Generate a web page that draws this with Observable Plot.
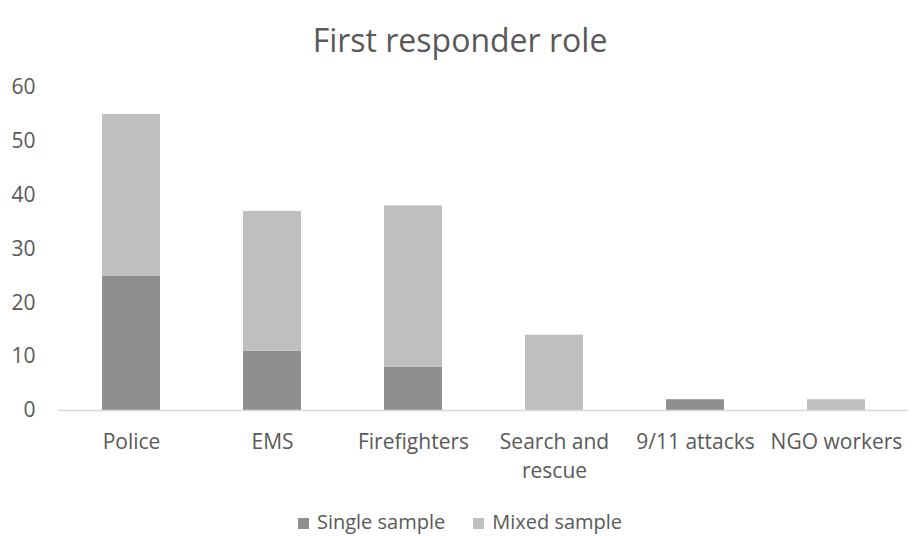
<!DOCTYPE html>
<html>
<head>
<meta charset="utf-8">
<script src="https://cdn.jsdelivr.net/npm/d3@7"></script>
<script src="https://cdn.jsdelivr.net/npm/@observablehq/plot@0.6"></script>
<style>
  body { margin: 0; background: #fff; font-family: "Open Sans", sans-serif; color: #595959; }
  #wrap { width: 920px; height: 536px; overflow: hidden; }
  #title { height: 60px; box-sizing: border-box; padding-top: 24px; font-size: 32px; line-height: 32px; text-align: center; }
  #legend { height: 36px; box-sizing: border-box; padding-top: 8px; line-height: 28px; font-size: 20px; text-align: center; }
  #legend span.sw { display: inline-block; width: 11px; height: 11px; margin-right: 8px; vertical-align: 0px; }
  #legend span.item { margin: 0 14px; }
</style>
</head>
<body>
<div id="wrap">
  <div id="title">First responder role</div>
  <div id="chart"></div>
  <div id="legend"></div>
</div>
<script>
// Roles on the x axis
const roles = ["Police", "EMS", "Firefighters", "Search and rescue", "9/11 attacks", "NGO workers"];
// Tick label text (wrapped where the label is long)
const roleLabels = ["Police", "EMS", "Firefighters", "Search and\nrescue", "9/11 attacks", "NGO workers"];
// Series
const seriesNames = ["Single sample", "Mixed sample"];
const seriesColors = ["#8f8f8f", "#bfbfbf"];
// Number of studies per role
const singleSample = [25, 11, 8, 0, 2, 0];
const mixedSample = [30, 26, 30, 14, 0, 2];
const yTicks = [0, 10, 20, 30, 40, 50, 60];

const rows = [];
roles.forEach((r, i) => {
  rows.push({role: r, series: seriesNames[0], value: singleSample[i]});
  rows.push({role: r, series: seriesNames[1], value: mixedSample[i]});
});

const labelOf = new Map(roles.map((r, i) => [r, roleLabels[i]]));

const chart = Plot.plot({
  width: 920,
  height: 440,
  marginTop: 27,
  marginBottom: 90,
  marginLeft: 58,
  marginRight: 12,
  style: {fontFamily: "'Open Sans', sans-serif", fontSize: "21px", color: "#595959", background: "#fff", overflow: "visible"},
  x: {domain: roles, paddingInner: 0.59, paddingOuter: 0.295, label: null},
  y: {domain: [0, 60], label: null},
  color: {domain: seriesNames, range: seriesColors},
  marks: [
    Plot.barY(rows, {x: "role", y: "value", fill: "series"}),
    Plot.ruleY([0], {stroke: "#d9d9d9", strokeWidth: 1.5}),
    Plot.axisY({ticks: yTicks, tickSize: 0, tickPadding: 23, label: null, fill: "#595959"}),
    Plot.axisX({tickSize: 0, tickPadding: 17, label: null, tickFormat: d => labelOf.get(d), lineHeight: 1.42, fill: "#595959"})
  ]
});
document.getElementById("chart").appendChild(chart);

// Legend below the chart
const legend = document.getElementById("legend");
seriesNames.forEach((name, i) => {
  const item = document.createElement("span");
  item.className = "item";
  const sw = document.createElement("span");
  sw.className = "sw";
  sw.style.background = seriesColors[i];
  item.appendChild(sw);
  item.appendChild(document.createTextNode(name));
  legend.appendChild(item);
});
</script>
</body>
</html>
